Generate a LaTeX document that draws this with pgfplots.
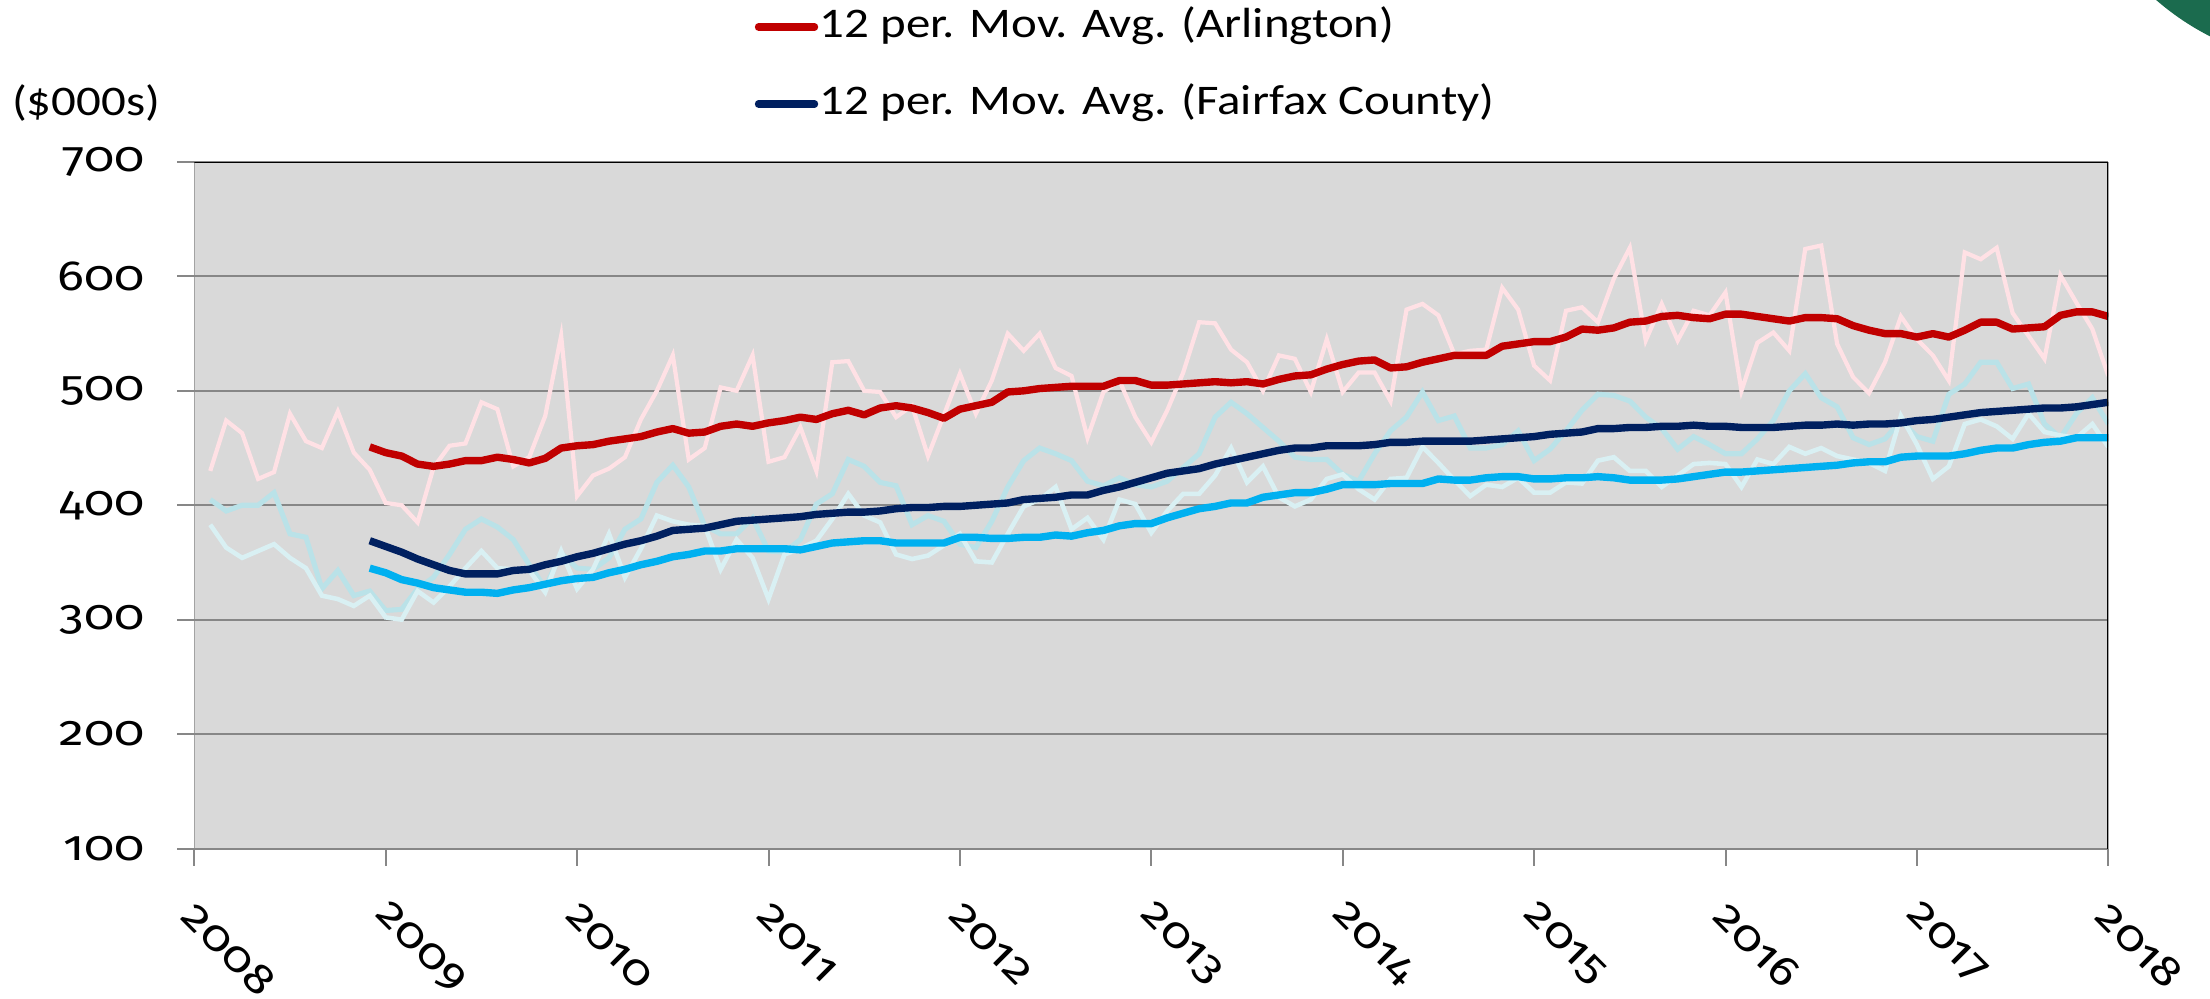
\documentclass[border=0pt]{standalone}
\usepackage{fontspec}
\setmainfont{Carlito}[FakeStretch=1.16]
\newfontfamily\tickfont{Fira Sans}[Numbers=OldStyle,FakeStretch=1.18]
\usepackage{pgfplots}
\usepackage{pgfplotstable}
\pgfplotsset{compat=1.18}
\definecolor{bgc}{HTML}{D9D9D9}
\definecolor{gridc}{HTML}{878787}
\definecolor{pinkraw}{HTML}{FFE1E5}
\definecolor{cyanA}{HTML}{BAE2E8}
\definecolor{cyanB}{HTML}{D9F0F3}
\definecolor{redma}{HTML}{C00000}
\definecolor{navyma}{HTML}{002060}
\definecolor{bluema}{HTML}{00B0F0}
\definecolor{dkgreen}{HTML}{1B6B4E}
\pgfplotstableread{
k pink fx ot
1 430 405 383
2 474 395 363
3 463 400 354
4 423 400 360
5 429 411 366
6 480 375 354
7 456 372 345
8 450 327 321
9 482 343 318
10 446 321 312
11 431 325 321
12 402 308 302
13 400 309 300
14 385 327 325
15 433 337 315
16 452 357 329
17 454 379 345
18 490 388 360
19 484 381 345
20 434 370 344
21 442 348 343
22 478 328 324
23 548 358 360
24 408 345 327
25 426 344 344
26 432 354 375
27 442 379 337
28 475 388 362
29 500 420 391
30 531 435 386
31 440 416 383
32 450 382 382
33 503 375 344
34 500 375 370
35 531 389 354
36 438 360 318
37 442 359 357
38 468 370 362
39 430 401 369
40 525 410 388
41 526 440 410
42 500 434 391
43 499 420 385
44 477 417 357
45 487 383 353
46 443 391 356
47 479 386 365
48 515 366 375
49 480 363 351
50 509 386 350
51 550 416 375
52 535 439 399
53 550 450 405
54 520 445 416
55 513 439 379
56 459 421 389
57 499 417 370
58 509 424 405
59 477 418 401
60 455 416 376
61 483 421 395
62 516 433 410
63 560 445 410
64 559 477 426
65 536 490 450
66 525 480 420
67 500 468 434
68 531 456 407
69 528 442 399
70 499 440 405
71 545 440 423
72 499 427 427
73 516 421 414
74 516 445 405
75 491 465 423
76 571 477 424
77 576 499 451
78 566 474 437
79 532 478 422
80 535 450 408
81 536 450 418
82 590 453 416
83 571 465 424
84 522 439 411
85 509 449 411
86 570 465 420
87 573 483 419
88 560 497 439
89 598 496 442
90 625 491 430
91 544 477 430
92 576 467 416
93 544 449 426
94 570 460 436
95 566 453 437
96 586 445 436
97 500 445 416
98 542 458 440
99 551 474 436
100 535 500 451
101 624 515 445
102 627 494 450
103 541 486 443
104 512 459 440
105 498 453 437
106 525 458 430
107 565 474 478
108 545 460 453
109 531 456 423
110 509 497 434
111 621 506 471
112 615 525 475
113 625 525 469
114 568 502 458
115 548 506 480
116 528 471 464
117 601 459 461
118 577 480 459
119 554 494 471
120 513 471 451
}\rawtable
\pgfplotstableread{
k red navy blue
11 451 369 345
12 446 364 341
13 443 359 335
14 436 353 332
15 434 348 328
16 436 343 326
17 439 340 324
18 439 340 324
19 442 340 323
20 440 343 326
21 437 344 328
22 441 348 331
23 450 351 334
24 452 355 336
25 453 358 337
26 456 362 341
27 458 366 344
28 460 369 348
29 464 373 351
30 467 378 355
31 463 379 357
32 464 380 360
33 469 383 360
34 471 386 362
35 469 387 362
36 472 388 362
37 474 389 362
38 477 390 361
39 475 392 364
40 480 393 367
41 483 394 368
42 479 394 369
43 485 395 369
44 487 397 367
45 485 398 367
46 481 398 367
47 476 399 367
48 484 399 372
49 487 400 372
50 490 401 371
51 499 402 371
52 500 405 372
53 502 406 372
54 503 407 374
55 504 409 373
56 504 409 376
57 504 413 378
58 509 416 382
59 509 420 384
60 505 424 384
61 505 428 389
62 506 430 393
63 507 432 397
64 508 436 399
65 507 439 402
66 508 442 402
67 506 445 407
68 510 448 409
69 513 450 411
70 514 450 411
71 519 452 414
72 523 452 418
73 526 452 418
74 527 453 418
75 520 455 419
76 521 455 419
77 525 456 419
78 528 456 423
79 531 456 422
80 531 456 422
81 531 457 424
82 539 458 425
83 541 459 425
84 543 460 423
85 543 462 423
86 547 463 424
87 554 464 424
88 553 467 425
89 555 467 424
90 560 468 422
91 561 468 422
92 565 469 422
93 566 469 423
94 564 470 425
95 563 469 427
96 567 469 429
97 567 468 429
98 565 468 430
99 563 468 431
100 561 469 432
101 564 470 433
102 564 470 434
103 563 471 435
104 557 470 437
105 553 471 438
106 550 471 438
107 550 472 442
108 547 474 443
109 550 475 443
110 547 477 443
111 553 479 445
112 560 481 448
113 560 482 450
114 554 483 450
115 555 484 453
116 556 485 455
117 566 485 456
118 569 486 459
119 569 488 459
120 565 490 459
}\matable
\begin{document}
\begin{tikzpicture}
\useasboundingbox (0,0) rectangle (22.10,9.98);
\begin{scope}
\clip (0,0) rectangle (22.10,9.98);
\fill[dkgreen] (23.30,11.98) circle (2.65);
\end{scope}
\node[font=\fontsize{12}{14}\selectfont] at (0.86,8.95) {(\$000s)};
\begin{axis}[
  at={(1.943cm,1.495cm)}, anchor=south west,
  width=19.14cm, height=6.865cm, scale only axis,
  xmin=0, xmax=120, ymin=100, ymax=700,
  xtick={0,12,...,120},
  xticklabels={2008,2009,2010,2011,2012,2013,2014,2015,2016,2017,2018},
  ytick={100,200,...,700},
  yticklabels={100,200,300,400,500,600,700},
  xtick pos=bottom, ytick pos=left,
  tick align=outside, major tick length=1.7mm,
  tick style={color=gridc, line width=0.57pt},
  ymajorgrids, grid style={color=gridc, line width=0.57pt},
  axis background/.style={fill=bgc},
  axis line style={draw=none},
  ticklabel style={font=\tickfont\fontsize{12}{14}\selectfont},
  yticklabel style={anchor=east, inner sep=0pt, xshift=-3.2mm},
  xticklabel style={inner sep=0pt, yshift=-4.3mm, xshift=-0.5mm, rotate=-45, anchor=west},
  legend style={draw=none, fill=none, at={(0.2925,1.231)}, anchor=north west,
    inner sep=0pt, row sep=8.9pt, font=\fontsize{12}{14}\selectfont,
    nodes={inner sep=0.5pt, text height=9pt, text depth=3pt}},
  legend cell align=left,
  legend image code/.code={\draw[#1, line cap=round] (0cm,0cm) -- (0.56cm,0cm);},
]
\addplot[pinkraw, line width=1.2pt, forget plot] table[x=k, y=pink] {\rawtable};
\addplot[cyanA, line width=1.45pt, forget plot] table[x=k, y=fx] {\rawtable};
\addplot[cyanB, line width=1.3pt, forget plot] table[x=k, y=ot] {\rawtable};
\addplot[bluema, line width=2.1pt, line join=round, forget plot] table[x=k, y=blue] {\matable};
\addplot[redma, line width=2.1pt, line join=round] table[x=k, y=red] {\matable};
\addlegendentry{12 per. Mov. Avg. (Arlington)}
\addplot[navyma, line width=2.1pt, line join=round] table[x=k, y=navy] {\matable};
\addlegendentry{12 per. Mov. Avg. (Fairfax County)}
\draw[gridc, line width=0.57pt] (rel axis cs:0,1) -- (rel axis cs:0,0) -- (rel axis cs:1,0);
\draw[black, line width=0.6pt] (rel axis cs:0,1) -- (rel axis cs:1,1) -- (rel axis cs:1,0);
\end{axis}
\end{tikzpicture}
\end{document}
